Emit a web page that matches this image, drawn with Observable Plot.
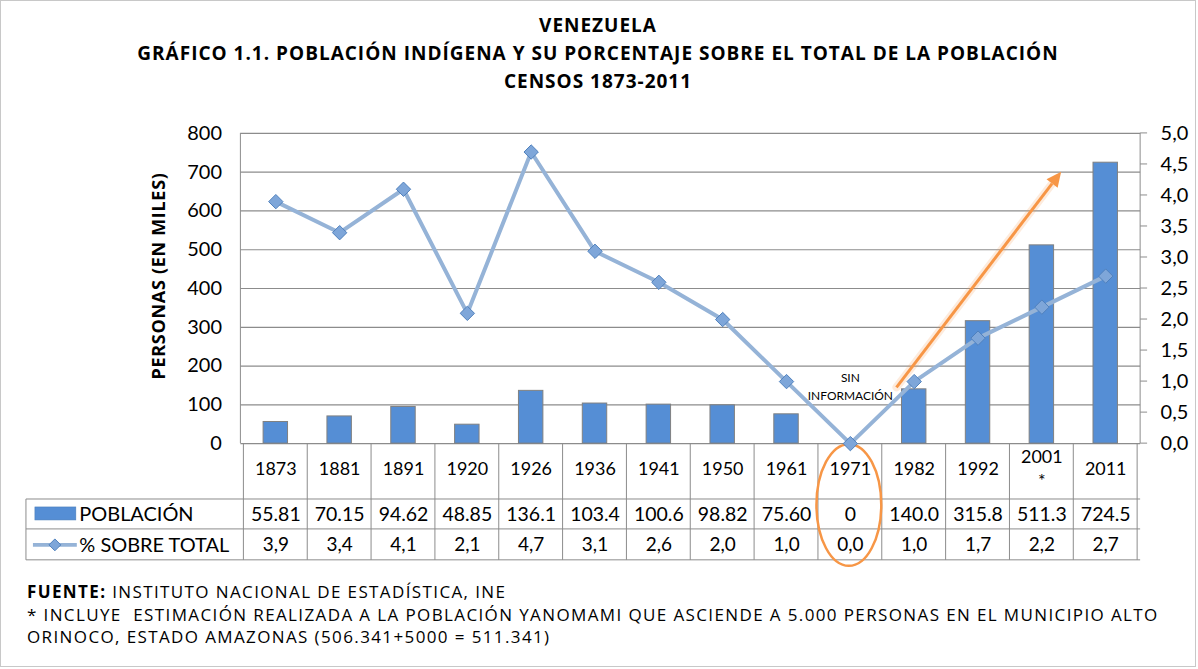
<!DOCTYPE html>
<html>
<head>
<meta charset="utf-8">
<script src="https://cdn.jsdelivr.net/npm/d3@7"></script>
<script src="https://cdn.jsdelivr.net/npm/@observablehq/plot@0.6"></script>
<style>
  body { margin: 0; background: #fff; }
  #frame { position: relative; width: 1196px; height: 667px; border: 1px solid #c8c8c8; box-sizing: border-box; font-family: Lato, "Open Sans", sans-serif; color: #000; overflow: hidden; }
  #title { position: absolute; top: 10px; left: 0; width: 100%; text-align: center; font-family: "Open Sans", Lato, sans-serif; font-weight: bold; font-size: 19px; letter-spacing: 1px; line-height: 28px; }
  #chart { position: absolute; top: 99px; left: -1px; }
  #ylabel { position: absolute; left: 157px; top: 275px; transform: translate(-50%, -50%) rotate(-90deg); white-space: nowrap; font-family: "Open Sans", Lato, sans-serif; font-weight: bold; font-size: 18px; letter-spacing: 0.7px; }
  #foot { position: absolute; left: 26px; top: 580px; font-family: "Open Sans", Lato, sans-serif; font-size: 17px; letter-spacing: 1.38px; line-height: 22.5px; }
</style>
</head>
<body>
<div id="frame">
  <div id="title"></div>
  <div id="chart"></div>
  <div id="ylabel"></div>
  <div id="foot"></div>
</div>
<script>
// ---------- data ----------
const years = ["1873","1881","1891","1920","1926","1936","1941","1950","1961","1971","1982","1992","2001","2011"];
const yearLabels = ["1873","1881","1891","1920","1926","1936","1941","1950","1961","1971","1982","1992","2001\n*","2011"];
const poblacion = [55.81, 70.15, 94.62, 48.85, 136.1, 103.4, 100.6, 98.82, 75.60, 0, 140.0, 315.8, 511.3, 724.5];
const poblacionLabels = ["55.81","70.15","94.62","48.85","136.1","103.4","100.6","98.82","75.60","0","140.0","315.8","511.3","724.5"];
const porcentaje = [3.9, 3.4, 4.1, 2.1, 4.7, 3.1, 2.6, 2.0, 1.0, 0.0, 1.0, 1.7, 2.2, 2.7];
const leftTicks = [0, 100, 200, 300, 400, 500, 600, 700, 800];
const rightTicks = [0, 0.5, 1, 1.5, 2, 2.5, 3, 3.5, 4, 4.5, 5];
const rowLabels = ["POBLACIÓN", "% SOBRE TOTAL"];
const titleLines = ["VENEZUELA", "GRÁFICO 1.1. POBLACIÓN INDÍGENA Y SU PORCENTAJE SOBRE EL TOTAL DE LA POBLACIÓN", "CENSOS 1873-2011"];
const yAxisLabel = "PERSONAS (EN MILES)";
const annotationText = "SIN\nINFORMACIÓN";
const footerSource = ["FUENTE:", " INSTITUTO NACIONAL DE ESTADÍSTICA, INE"];
const footerNote = ["* INCLUYE  ESTIMACIÓN REALIZADA A LA POBLACIÓN YANOMAMI QUE ASCIENDE A 5.000 PERSONAS EN EL MUNICIPIO ALTO", "ORINOCO, ESTADO AMAZONAS (506.341+5000 = 511.341)"];
const arrowFrom = {pos: 9.73, value: 144};
const arrowTo = {pos: 12.31, value: 700};
const annotationValue = 150;
const highlightYear = "1971";

// ---------- derived ----------
const leftMax = 800, rightMax = 5, ratio = leftMax / rightMax;
const data = years.map((year, i) => ({year, label: yearLabels[i], pob: poblacion[i], pobText: poblacionLabels[i], pct: porcentaje[i]}));
const fmtPct = v => v.toFixed(1).replace(".", ",");

const FONT = "Lato, 'Open Sans', sans-serif";
const GRID = "#8c8c8c";
const BAR = "#558ed5";
const LINE = "#95b3d7";
const ORANGE = "#f79646";

document.getElementById("title").innerHTML = titleLines.map(t => `<div>${t}</div>`).join("");
document.getElementById("ylabel").textContent = yAxisLabel;
document.getElementById("foot").innerHTML =
  `<div><b>${footerSource[0]}</b>${footerSource[1]}</div>` + footerNote.map(t => `<div style="white-space:pre">${t}</div>`).join("");

function decorations(index, scales, values, dim) {
  const x = scales.x, y = scales.y;
  const step = x(years[1]) - x(years[0]);
  const x0 = x(years[0]);
  const cx = p => x0 + (p + 0.5) * step;
  const left = dim.marginLeft, right = dim.width - dim.marginRight;
  const top = dim.marginTop, bottom = dim.height - dim.marginBottom;
  const g = d3.create("svg:g");
  const line = (x1, y1, x2, y2, stroke = GRID, w = 1) =>
    g.append("line").attr("x1", x1).attr("y1", y1).attr("x2", x2).attr("y2", y2).attr("stroke", stroke).attr("stroke-width", w);
  // left & right axis lines
  line(left, top, left, bottom);
  line(right, top, right, bottom);
  for (const t of rightTicks) line(right, y(t * ratio), right + 7, y(t * ratio));
  // table
  const r1 = bottom + 56, r2 = bottom + 86, r3 = bottom + 117, tl = 26;
  for (let i = 0; i <= years.length; i++) line(x0 + i * step, bottom, x0 + i * step, r3);
  line(tl, r1, right, r1); line(tl, r2, right, r2); line(tl, r3, right, r3);
  line(tl, r1, tl, r3);
  // legend symbols
  g.append("rect").attr("x", 35).attr("y", bottom + 64).attr("width", 41).attr("height", 13).attr("fill", BAR).attr("stroke", "#4a7ebb").attr("stroke-width", 0.6);
  line(33, bottom + 102, 77, bottom + 102, LINE, 4);
  g.append("path").attr("d", d3.symbol(d3.symbolDiamond2, 90)()).attr("transform", `translate(55,${bottom + 102})`).attr("fill", "#7ea6d9").attr("stroke", "#4f81bd").attr("stroke-width", 1);
  // highlight ellipse
  const hi = years.indexOf(highlightYear);
  g.append("ellipse").attr("cx", cx(hi) - 1).attr("cy", bottom + 62).attr("rx", 32.5).attr("ry", 61)
    .attr("fill", "none").attr("stroke", ORANGE).attr("stroke-width", 2.5);
  // arrow
  const ax1 = cx(arrowFrom.pos), ay1 = y(arrowFrom.value), ax2 = cx(arrowTo.pos), ay2 = y(arrowTo.value);
  const ang = Math.atan2(ay2 - ay1, ax2 - ax1);
  const hl = 15, hw = 7;
  const bx = ax2 - hl * Math.cos(ang), by = ay2 - hl * Math.sin(ang);
  line(ax1, ay1, bx, by, ORANGE, 8).attr("opacity", 0.18).attr("stroke-linecap", "round");
  line(ax1, ay1, bx, by, ORANGE, 3);
  const px = -Math.sin(ang), py = Math.cos(ang);
  g.append("path").attr("d", `M${ax2},${ay2}L${bx + hw * px},${by + hw * py}L${bx - hw * px},${by - hw * py}Z`).attr("fill", ORANGE);
  return g.node();
}

const chart = Plot.plot({
  width: 1198,
  height: 470,
  marginTop: 33,
  marginBottom: 126,
  marginLeft: 241,
  marginRight: 55,
  style: {fontFamily: FONT, fontSize: "20px", background: "transparent", color: "#000"},
  x: {domain: years, padding: 0, axis: null},
  y: {domain: [0, leftMax], ticks: leftTicks.length - 1, tickSize: 0, tickPadding: 19, label: null, tickFormat: d => String(d)},
  marks: [
    Plot.ruleY(leftTicks, {stroke: GRID, strokeWidth: 1.2}),
    Plot.barY(data, {x: "year", y: "pob", fill: BAR, stroke: "#808080", strokeWidth: 1, insetLeft: 19.75, insetRight: 19.75}),
    decorations,
    Plot.line(data, {x: "year", y: d => d.pct * ratio, stroke: LINE, strokeWidth: 4, curve: "linear"}),
    Plot.dot(data, {x: "year", y: d => d.pct * ratio, symbol: "diamond2", r: 6.5, fill: "#7ea6d9", stroke: "#4f81bd", strokeWidth: 1}),
    Plot.text(rightTicks, {y: d => d * ratio, text: fmtPct, frameAnchor: "right", textAnchor: "start", lineAnchor: "middle", dx: 20, fontSize: 20}),
    Plot.text([annotationText], {x: () => highlightYear, y: () => annotationValue, text: d => d, fontSize: 12, lineHeight: 1.45}),
    Plot.text(data, {x: "year", text: "label", frameAnchor: "bottom", lineAnchor: "middle", dy: 24, fontSize: 18, lineHeight: 1.35}),
    Plot.text(data, {x: "year", text: "pobText", frameAnchor: "bottom", lineAnchor: "middle", dy: 71, fontSize: 19.5}),
    Plot.text(data, {x: "year", text: d => fmtPct(d.pct), frameAnchor: "bottom", lineAnchor: "middle", dy: 102, fontSize: 19}),
    Plot.text([rowLabels[0]], {text: d => d, frameAnchor: "bottom-left", textAnchor: "start", lineAnchor: "middle", dx: -162, dy: 71, fontSize: 20}),
    Plot.text([rowLabels[1]], {text: d => d, frameAnchor: "bottom-left", textAnchor: "start", lineAnchor: "middle", dx: -162, dy: 102, fontSize: 20})
  ]
});
document.getElementById("chart").appendChild(chart);
</script>
</body>
</html>
